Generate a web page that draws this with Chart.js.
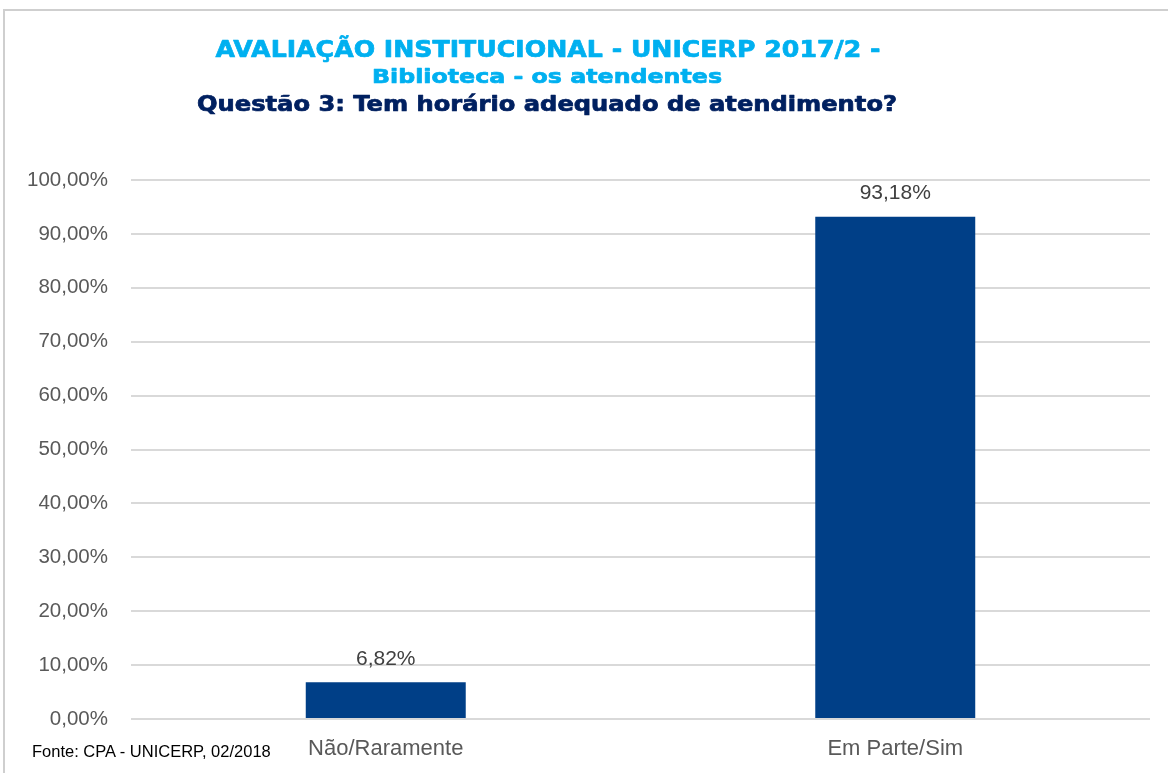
<!DOCTYPE html>
<html>
<head>
<meta charset="utf-8">
<script src="https://cdn.jsdelivr.net/npm/chart.js@4"></script>
<style>
  html, body { margin: 0; padding: 0; background: #fff; }
  #wrap { position: relative; width: 1168px; height: 773px; overflow: hidden; }
  #frame { position: absolute; left: 3px; top: 9px; width: 1200px; height: 800px; border-left: 2px solid #cfcfcf; border-top: 2px solid #cfcfcf; }
  #fonte { position: absolute; left: 32px; top: 742px; font: 16.5px "Liberation Sans", Arial, sans-serif; color: #000; }
  canvas { position: absolute; left: 0; top: 0; }
</style>
</head>
<body>
<div id="wrap">
  <div id="frame"></div>
  <canvas id="myChart" width="1168" height="773"></canvas>
  <div id="fonte">Fonte: CPA - UNICERP, 02/2018</div>
</div>
<script>
// dados
const categorias = ["Não/Raramente", "Em Parte/Sim"];
const valores = [6.82, 93.18];
const yTicks = [0, 10, 20, 30, 40, 50, 60, 70, 80, 90, 100];

const titulo1 = "AVALIAÇÃO INSTITUCIONAL - UNICERP 2017/2 -";
const titulo2 = "Biblioteca - os atendentes";
const titulo3 = "Questão 3: Tem horário adequado de atendimento?";

function fmt(v) {
  return v.toFixed(2).replace(".", ",") + "%";
}

// texto centrado e esticado ate a largura pedida (com contorno p/ ficar mais "black")
function stretchText(ctx, txt, cx, y, w) {
  const nat = ctx.measureText(txt).width;
  ctx.save();
  ctx.translate(cx, y);
  ctx.scale(w / nat, 1);
  ctx.strokeStyle = ctx.fillStyle;
  ctx.lineWidth = 0.7;
  ctx.lineJoin = "round";
  ctx.strokeText(txt, 0, 0);
  ctx.fillText(txt, 0, 0);
  ctx.restore();
}

// titulos desenhados no canvas
const titlePlugin = {
  id: "titulos",
  afterDraw(chart) {
    const ctx = chart.ctx;
    ctx.save();
    ctx.textAlign = "center";
    ctx.textBaseline = "alphabetic";
    ctx.font = "bold 23px 'DejaVu Sans', sans-serif";
    ctx.fillStyle = "#00b0f0";
    stretchText(ctx, titulo1, 548, 57, 665);
    ctx.font = "bold 20px 'DejaVu Sans', sans-serif";
    stretchText(ctx, titulo2, 547, 83, 350);
    ctx.fillStyle = "#002060";
    ctx.font = "bold 20.5px 'DejaVu Sans', sans-serif";
    stretchText(ctx, titulo3, 547, 111, 700);
    ctx.restore();
  }
};

// rotulos de valor acima das barras
const labelPlugin = {
  id: "rotulos",
  afterDatasetsDraw(chart) {
    const ctx = chart.ctx;
    const meta = chart.getDatasetMeta(0);
    ctx.save();
    ctx.font = "21px 'Liberation Sans', Arial, sans-serif";
    ctx.fillStyle = "#404040";
    ctx.textAlign = "center";
    ctx.textBaseline = "bottom";
    meta.data.forEach((bar, i) => {
      ctx.fillText(fmt(valores[i]), bar.x, bar.y - 13);
    });
    ctx.restore();
  }
};

let mychart = document.getElementById("myChart").getContext("2d");
let barChart = new Chart(mychart, {
  type: "bar",
  data: {
    labels: categorias,
    datasets: [
      {
        label: "Questão 3",
        data: valores,
        backgroundColor: "#003f87",
        borderWidth: 0,
        barPercentage: 0.314,
        categoryPercentage: 1
      }
    ]
  },
  options: {
    responsive: false,
    animation: false,
    layout: { padding: { top: 180, right: 18, left: 0, bottom: 0 } },
    plugins: {
      legend: { display: false },
      tooltip: { enabled: false }
    },
    scales: {
      x: {
        grid: { display: false, drawTicks: false },
        border: { display: false },
        ticks: {
          color: "#595959",
          font: { family: "'Liberation Sans', Arial, sans-serif", size: 22 },
          padding: 17
        },
        afterFit(scale) { scale.height = 54; }
      },
      y: {
        min: 0,
        max: 100,
        afterBuildTicks(scale) {
          scale.ticks = yTicks.map(v => ({ value: v }));
        },
        grid: { color: "#d9d9d9", lineWidth: 2, drawTicks: false },
        border: { display: false },
        ticks: {
          color: "#595959",
          font: { family: "'Liberation Sans', Arial, sans-serif", size: 20.5 },
          padding: 23,
          callback: (v) => fmt(v)
        },
        afterFit(scale) { scale.width = 131; }
      }
    }
  },
  plugins: [titlePlugin, labelPlugin]
});
</script>
</body>
</html>
